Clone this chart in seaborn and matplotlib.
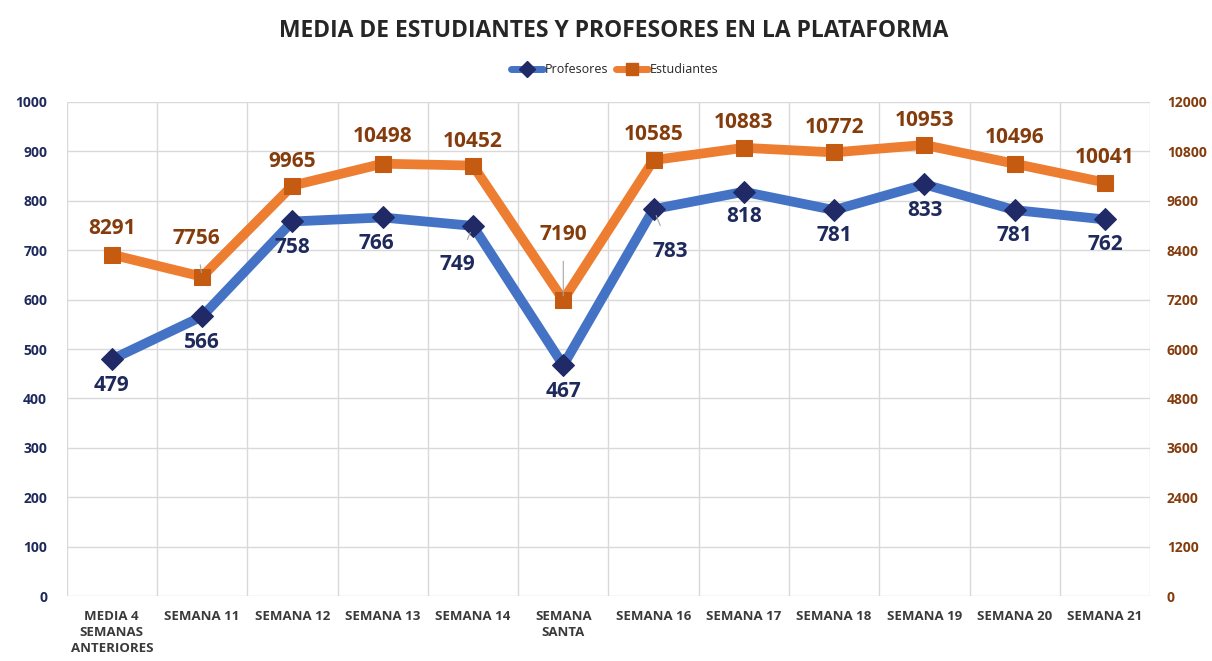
import numpy as np
import matplotlib
matplotlib.use("Agg")
import matplotlib.pyplot as plt
import seaborn as sns
from matplotlib.lines import Line2D

categorias = ["MEDIA 4\nSEMANAS\nANTERIORES", "SEMANA 11", "SEMANA 12", "SEMANA 13",
              "SEMANA 14", "SEMANA\nSANTA", "SEMANA 16", "SEMANA 17", "SEMANA 18",
              "SEMANA 19", "SEMANA 20", "SEMANA 21"]
profesores = [479, 566, 758, 766, 749, 467, 783, 818, 781, 833, 781, 762]
estudiantes = [8291, 7756, 9965, 10498, 10452, 7190, 10585, 10883, 10772, 10953, 10496, 10041]

# desplazamiento de las etiquetas (px)
off_prof = [(0, -26), (0, -26), (0, -26), (-6, -26), (-16, -39), (0, -26),
            (17, -42), (0, -25), (0, -25), (0, -26), (0, -25), (0, -25)]
off_est = [(0, 26), (-6, 38), (0, 24), (0, 27), (0, 24), (0, 65),
           (0, 26), (0, 25), (0, 25), (0, 24), (0, 26), (0, 25)]
con_linea_prof = [4, 6]
con_linea_est = [1, 5]

sns.set_style("white")
plt.rcParams["font.family"] = ["Open Sans", "DejaVu Sans"]

c_azul, c_azul_osc = "#4472C4", "#1F2A66"
c_nar, c_nar_osc = "#ED7D31", "#C55A11"
c_txt_azul, c_txt_nar = "#1F2A5C", "#843C0C"

fig = plt.figure(figsize=(12.12, 6.61), dpi=100)
ax = fig.add_axes([0.055, 0.098, 0.894, 0.748])
ax2 = ax.twinx()

x = np.arange(len(categorias))
sns.lineplot(x=x, y=profesores, ax=ax, color=c_azul, lw=7, marker="D", markersize=11,
             markerfacecolor=c_azul_osc, markeredgecolor=c_azul_osc, zorder=3)
sns.lineplot(x=x, y=estudiantes, ax=ax2, color=c_nar, lw=7, marker="s", markersize=11,
             markerfacecolor=c_nar_osc, markeredgecolor=c_nar_osc, zorder=3)

ax.set_xlim(-0.5, len(categorias) - 0.5)
ax.set_ylim(0, 1000)
ax2.set_ylim(0, 12000)
ax.set_yticks(np.arange(0, 1001, 100))
ax2.set_yticks(np.arange(0, 12001, 1200))
ax.set_xticks(x)
ax.set_xticklabels(categorias, fontsize=9.5, fontweight="bold", color="#3A3A3A",
                   linespacing=1.3)
ax.set_xticks(np.arange(-0.5, len(categorias), 1), minor=True)

ax.grid(False)
ax2.grid(False)
ax.grid(which="minor", axis="x", color="#D9D9D9", lw=1)
ax.grid(which="major", axis="y", color="#D9D9D9", lw=1)
ax.tick_params(axis="x", which="both", length=0, pad=10)
ax.tick_params(axis="y", length=0, pad=14, labelsize=10, labelcolor=c_txt_azul)
ax2.tick_params(axis="y", length=0, pad=12, labelsize=10, labelcolor=c_txt_nar)
for t in ax.get_yticklabels():
    t.set_fontweight("bold")
for t in ax2.get_yticklabels():
    t.set_fontweight("bold")
for a in (ax, ax2):
    for s in a.spines.values():
        s.set_visible(False)
ax.set_ylabel("")
ax2.set_ylabel("")

for i, v in enumerate(profesores):
    dx, dy = off_prof[i]
    props = dict(arrowstyle="-", color="#A6A6A6", lw=0.8, shrinkA=9, shrinkB=5) if i in con_linea_prof else None
    ax.annotate(str(v), (x[i], v), xytext=(dx * 0.72, dy * 0.72), textcoords="offset points",
                ha="center", va="center", fontsize=15, fontweight="bold",
                color=c_txt_azul, arrowprops=props, zorder=5)
for i, v in enumerate(estudiantes):
    dx, dy = off_est[i]
    props = dict(arrowstyle="-", color="#A6A6A6", lw=0.8, shrinkA=9, shrinkB=3) if i in con_linea_est else None
    ax2.annotate(str(v), (x[i], v), xytext=(dx * 0.72, dy * 0.72), textcoords="offset points",
                 ha="center", va="center", fontsize=15, fontweight="bold",
                 color=c_txt_nar, arrowprops=props, zorder=5)

fig.suptitle("MEDIA DE ESTUDIANTES Y PROFESORES EN LA PLATAFORMA", x=0.506, y=0.972,
             fontsize=16.5, fontweight="bold", color="#262626")

handles = [Line2D([], [], color=c_azul, lw=5, marker="D", markersize=8,
                  markerfacecolor=c_azul_osc, markeredgecolor=c_azul_osc),
           Line2D([], [], color=c_nar, lw=5, marker="s", markersize=8,
                  markerfacecolor=c_nar_osc, markeredgecolor=c_nar_osc)]
fig.legend(handles, ["Profesores", "Estudiantes"], loc="center", ncol=2,
           bbox_to_anchor=(0.507, 0.895), frameon=False, fontsize=9,
           handlelength=2.6, handletextpad=0.1, columnspacing=0.6)

fig.savefig("out.png", dpi=100)
